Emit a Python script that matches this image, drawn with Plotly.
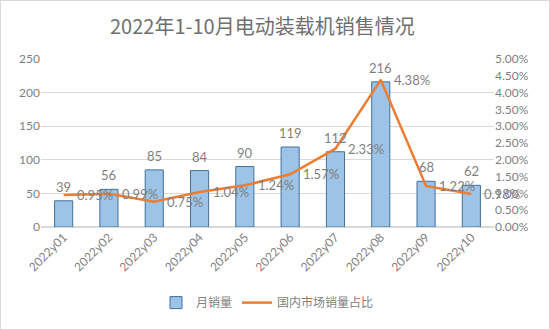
import plotly.graph_objects as go

months = ["2022y01", "2022y02", "2022y03", "2022y04", "2022y05",
          "2022y06", "2022y07", "2022y08", "2022y09", "2022y10"]
sales = [39, 56, 85, 84, 90, 119, 112, 216, 68, 62]
share = [0.0095, 0.0099, 0.0075, 0.0104, 0.0124, 0.0157, 0.0233, 0.0438, 0.0122, 0.0098]
left_ticks = [0, 50, 100, 150, 200, 250]
right_ticks = [i * 0.005 for i in range(11)]

FONT = "Lato, 'Noto Sans CJK SC', sans-serif"
GREY = "#7f7f7f"

fig = go.Figure()
fig.add_trace(go.Bar(
    x=months, y=sales, name="月销量",
    marker=dict(color="#9dc3e6", line=dict(color="#41719c", width=1)),
    width=0.4,
    cliponaxis=False,
))
fig.add_trace(go.Scatter(
    x=months, y=share, name="国内市场销量占比", yaxis="y2",
    mode="lines",
    line=dict(color="#ed7d31", width=2.5),
    cliponaxis=False,
))
for m, v in zip(months, sales):
    fig.add_annotation(x=m, y=v, xref="x", yref="y", text=str(v),
                       showarrow=False, xanchor="center", yanchor="bottom", yshift=4,
                       font=dict(size=13, color=GREY, family=FONT))
for m, v in zip(months, share):
    fig.add_annotation(x=m, y=v, xref="x", yref="y2", text=f"{v*100:.2f}%",
                       showarrow=False, xanchor="left", yanchor="middle", xshift=11,
                       font=dict(size=13, color=GREY, family=FONT))

fig.update_layout(
    width=550, height=330,
    margin=dict(l=41, r=56, t=59, b=103, autoexpand=False),
    paper_bgcolor="white", plot_bgcolor="white",
    font=dict(family=FONT, color=GREY, size=11),
    title=dict(text="2022年1-10月电动装载机销售情况", x=0.477, xanchor="center",
               y=0.918, yanchor="middle",
               font=dict(size=20, color="#6f6f6f", family="'Noto Sans CJK SC', sans-serif")),
    xaxis=dict(tickangle=-45, showgrid=False, showline=False, ticks="", automargin=False,
               range=[-0.5, len(months) - 0.5],
               tickfont=dict(size=12, color=GREY)),
    yaxis=dict(range=[0, 250], tickvals=left_ticks, showgrid=True, gridcolor="#d9d9d9",
               zeroline=True, zerolinecolor="#d9d9d9", ticks="", showline=False,
               automargin=False, tickfont=dict(size=12, color=GREY)),
    yaxis2=dict(range=[0, 0.05], tickvals=right_ticks, tickformat=".2%", overlaying="y",
                side="right", showgrid=False, zeroline=False, ticks="", showline=False,
                automargin=False, tickfont=dict(size=12, color=GREY)),
    showlegend=True,
    legend=dict(orientation="h", x=0.5, xanchor="center", y=-0.45, yanchor="middle",
                font=dict(size=12, color=GREY, family="'Noto Sans CJK SC', sans-serif")),
    bargap=0.6,
)
fig.add_shape(type="rect", xref="paper", yref="paper", x0=-41/453, x1=1+56/453,
              y0=-103/168, y1=1+59/168, line=dict(color="#d9d9d9", width=2), layer="below")

fig.write_html("out.html")
